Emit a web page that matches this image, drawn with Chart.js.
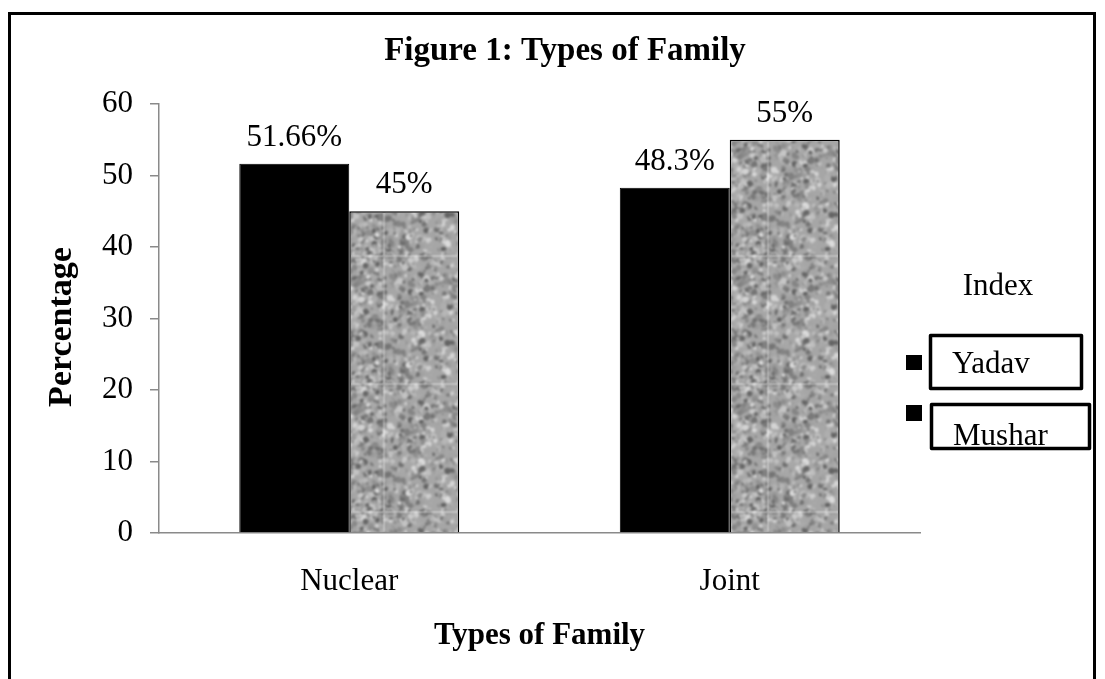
<!DOCTYPE html>
<html>
<head>
<meta charset="utf-8">
<title>Figure 1: Types of Family</title>
<script src="https://cdn.jsdelivr.net/npm/chart.js@4.4.1/dist/chart.umd.min.js"></script>
<style>
  html, body { margin: 0; padding: 0; background: #fff; }
  #wrap { position: relative; width: 1105px; height: 679px; overflow: hidden; }
  #frame { position: absolute; left: 8px; top: 12px; width: 1082px; height: 720px;
           border: 3px solid #000; border-bottom: none; }
  #c { position: absolute; left: 0; top: 0; }
</style>
</head>
<body>
<div id="wrap">
  <div id="frame"></div>
  <canvas id="c" width="1105" height="679"></canvas>
</div>
<script>
// ---- data ----
const categories = ['Nuclear', 'Joint'];
const seriesNames = ['Yadav', 'Mushar'];
const yadavValues = [51.66, 48.3];
const musharValues = [45, 55];
const yTickValues = [0, 10, 20, 30, 40, 50, 60];

const chartTitle = 'Figure 1: Types of Family';
const xAxisTitle = 'Types of Family';
const yAxisTitle = 'Percentage';
const legendHeading = 'Index';

const SERIF = "'Liberation Serif', 'Times New Roman', serif";

// soft granite-like grey texture for the second series
function makeStoneTile() {
  const size = 128;
  const raw = document.createElement('canvas');
  raw.width = raw.height = size;
  const g = raw.getContext('2d');
  g.fillStyle = '#a6a6a6';
  g.fillRect(0, 0, size, size);
  let s = 20240611;
  const next = () => (s = (s * 1103515245 + 12345) & 0x7fffffff) / 0x7fffffff;
  for (let i = 0; i < 1100; i++) {
    const x = next() * size, y = next() * size;
    const r = 1.0 + next() * 2.4;
    const ry = r * (0.45 + next() * 0.8);
    const rot = next() * Math.PI;
    const v = Math.floor(95 + next() * 125);
    g.fillStyle = `rgb(${v},${v},${v})`;
    for (const dx of [-size, 0, size]) {
      for (const dy of [-size, 0, size]) {
        g.beginPath();
        g.ellipse(x + dx, y + dy, r, ry, rot, 0, Math.PI * 2);
        g.fill();
      }
    }
  }
  const soft = document.createElement('canvas');
  soft.width = soft.height = size;
  const g2 = soft.getContext('2d');
  g2.filter = 'blur(1.1px)';
  for (const dx of [-size, 0, size]) {
    for (const dy of [-size, 0, size]) g2.drawImage(raw, dx, dy);
  }
  return soft;
}

const canvas = document.getElementById('c');
const stonePattern = canvas.getContext('2d').createPattern(makeStoneTile(), 'repeat');

// title drawn centred over plot + legend block
const figureTitlePlugin = {
  id: 'figureTitle',
  afterDraw(chart, args, o) {
    const ctx = chart.ctx;
    ctx.save();
    ctx.font = `bold ${o.size}px ${SERIF}`;
    ctx.fillStyle = '#000';
    ctx.textAlign = 'center';
    ctx.textBaseline = 'alphabetic';
    ctx.fillText(o.text, o.x, o.y);
    ctx.restore();
  }
};

// rotated y-axis caption
const yCaptionPlugin = {
  id: 'yCaption',
  afterDraw(chart, args, o) {
    const ctx = chart.ctx;
    ctx.save();
    ctx.translate(o.x, o.y);
    ctx.rotate(-Math.PI / 2);
    ctx.font = `bold ${o.size}px ${SERIF}`;
    ctx.fillStyle = '#000';
    ctx.textAlign = 'center';
    ctx.textBaseline = 'middle';
    ctx.fillText(o.text, 0, 0);
    ctx.restore();
  }
};

// value labels above every bar
const valueLabelPlugin = {
  id: 'valueLabels',
  afterDatasetsDraw(chart, args, o) {
    const ctx = chart.ctx;
    ctx.save();
    ctx.font = `${o.size}px ${SERIF}`;
    ctx.fillStyle = '#000';
    ctx.textAlign = 'center';
    ctx.textBaseline = 'alphabetic';
    chart.data.datasets.forEach((ds, di) => {
      const meta = chart.getDatasetMeta(di);
      meta.data.forEach((bar, i) => {
        ctx.fillText(ds.data[i] + '%', bar.x, bar.y - o.gap);
      });
    });
    ctx.restore();
  }
};

// boxed legend on the right
const indexLegendPlugin = {
  id: 'indexLegend',
  afterDraw(chart, args, o) {
    const ctx = chart.ctx;
    ctx.save();
    ctx.font = `${o.size}px ${SERIF}`;
    ctx.fillStyle = '#000';
    ctx.textAlign = 'center';
    ctx.textBaseline = 'alphabetic';
    ctx.fillText(o.heading, o.headingX, o.headingY);
    ctx.textAlign = 'left';
    ctx.lineJoin = 'round';
    chart.data.datasets.forEach((ds, i) => {
      const it = o.items[i];
      ctx.fillStyle = '#000';
      ctx.fillRect(it.mark[0], it.mark[1], it.mark[2], it.mark[3]);
      ctx.lineWidth = o.boxLine;
      ctx.strokeStyle = '#000';
      ctx.strokeRect(it.box[0], it.box[1], it.box[2], it.box[3]);
      ctx.fillText(ds.label, it.text[0], it.text[1]);
    });
    ctx.restore();
  }
};

new Chart(canvas, {
  type: 'bar',
  data: {
    labels: categories,
    datasets: [
      {
        label: seriesNames[0],
        data: yadavValues,
        backgroundColor: '#000',
        borderColor: '#000',
        borderWidth: 1
      },
      {
        label: seriesNames[1],
        data: musharValues,
        backgroundColor: stonePattern,
        borderColor: '#000',
        borderWidth: 1.5
      }
    ]
  },
  options: {
    responsive: false,
    animation: false,
    devicePixelRatio: 1,
    events: [],
    layout: { padding: { left: 25, right: 185, top: 104, bottom: 0 } },
    datasets: { bar: { categoryPercentage: 0.578, barPercentage: 1 } },
    plugins: {
      legend: { display: false },
      tooltip: { enabled: false },
      title: { display: false },
      figureTitle: { text: chartTitle, x: 565, y: 60, size: 33 },
      yCaption: { text: yAxisTitle, x: 62, y: 327, size: 34 },
      valueLabels: { size: 31, gap: 18 },
      indexLegend: {
        heading: legendHeading, headingX: 998, headingY: 295, size: 31, boxLine: 3.5,
        items: [
          { mark: [906, 355, 16, 15], box: [930.5, 335.5, 151, 53], text: [952, 373] },
          { mark: [906, 405, 16, 16], box: [931.5, 404.5, 158, 44], text: [953, 445] }
        ]
      }
    },
    scales: {
      x: {
        afterFit(scale) { scale.height = 146; },
        grid: { display: true, drawOnChartArea: false, drawTicks: false },
        border: { display: true, color: '#8a8a8a', width: 1.5 },
        ticks: {
          color: '#000',
          padding: 30,
          font: { family: SERIF, size: 31 }
        },
        title: {
          display: true,
          text: xAxisTitle,
          color: '#000',
          font: { family: SERIF, size: 31, weight: 'bold' },
          padding: { top: 0, bottom: 24 }
        }
      },
      y: {
        min: 0,
        max: 60,
        afterFit(scale) { scale.width = 134; },
        afterBuildTicks(scale) { scale.ticks = yTickValues.map(v => ({ value: v })); },
        grid: { display: true, drawOnChartArea: false, drawTicks: true, tickLength: 9, color: '#8a8a8a', lineWidth: 1.5 },
        border: { display: true, color: '#8a8a8a', width: 1.5 },
        ticks: {
          color: '#000',
          padding: 17,
          font: { family: SERIF, size: 31 }
        },
        title: { display: false }
      }
    }
  },
  plugins: [figureTitlePlugin, yCaptionPlugin, valueLabelPlugin, indexLegendPlugin]
});
</script>
</body>
</html>
